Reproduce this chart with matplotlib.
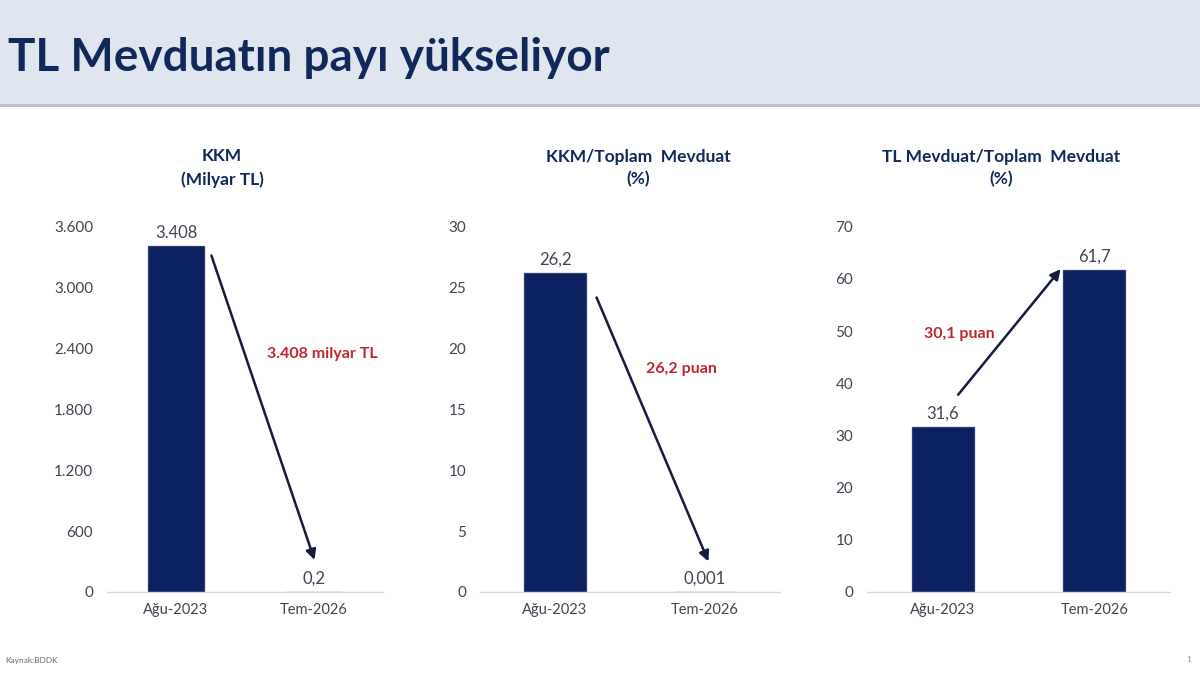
import matplotlib.pyplot as plt
from matplotlib.patches import Rectangle
from matplotlib.ticker import FuncFormatter

plt.rcParams['font.family'] = ['Lato', 'DejaVu Sans']

categories = ['Ağu-2023', 'Tem-2026']
kkm = [3408, 0.2]
kkm_share = [26.2, 0.001]
tl_share = [31.6, 61.7]
kkm_labels = ['3.408', '0,2']
kkm_share_labels = ['26,2', '0,001']
tl_share_labels = ['31,6', '61,7']

navy = '#0c2161'
title_col = '#10295a'
txt = '#404552'
red = '#c0272d'


def tr_thousands(v, pos):
    return f'{int(v):,}'.replace(',', '.')


fig = plt.figure(figsize=(12, 6.75), dpi=100)

# header band
fig.patches.append(Rectangle((0, 1 - 105 / 675), 1, 105 / 675, transform=fig.transFigure,
                             facecolor='#dfe6f0', edgecolor='none', zorder=0))
fig.patches.append(Rectangle((0, 1 - 107 / 675), 1, 3 / 675, transform=fig.transFigure,
                             facecolor='#b9c2ce', edgecolor='none', zorder=0))
fig.text(8 / 1200, 1 - 58 / 675, 'TL Mevduatın payı yükseliyor', fontsize=33, fontweight='bold',
         color=title_col, va='center', ha='left')

fig.text(5 / 1200, 1 - 661 / 675, 'Kaynak:BDDK', fontsize=6, color='#666666', va='center')
fig.text(1186 / 1200, 1 - 659 / 675, '1', fontsize=6, color='#888888', va='center')

panels = [
    dict(rect=[107 / 1200, 0.123, 276 / 1200, 0.541], vals=kkm, labels=kkm_labels, top=3600, step=600,
         fmt=tr_thousands, title='KKM\n(Milyar TL)', tx=222,
         arrow=((0.25, 3343), (1.01, 290)), note='3.408 milyar TL', note_xy=(1.06, 2347)),
    dict(rect=[480 / 1200, 0.123, 300 / 1200, 0.541], vals=kkm_share, labels=kkm_share_labels, top=30, step=5,
         fmt=lambda v, p: f'{int(v)}', title='KKM/Toplam  Mevduat\n(%)', tx=638,
         arrow=((0.27, 24.4), (1.03, 2.3)), note='26,2 puan', note_xy=(0.84, 18.3)),
    dict(rect=[867 / 1200, 0.123, 303 / 1200, 0.541], vals=tl_share, labels=tl_share_labels, top=70, step=10,
         fmt=lambda v, p: f'{int(v)}', title='TL Mevduat/Toplam  Mevduat\n(%)', tx=1001,
         arrow=((0.09, 37.4), (0.79, 62.3)), note='30,1 puan', note_xy=(0.11, 49.4)),
]

for p in panels:
    ax = fig.add_axes(p['rect'])
    x = range(len(categories))
    ax.bar(x, p['vals'], width=0.41, color=navy, edgecolor='#2e3d6e', linewidth=0.9, zorder=2)
    ax.set_xlim(-0.5, 1.5)
    ax.set_ylim(0, p['top'])
    ax.set_yticks(range(0, p['top'] + 1, p['step']))
    ax.yaxis.set_major_formatter(FuncFormatter(p['fmt']))
    ax.set_xticks(list(x))
    ax.set_xticklabels(categories)
    ax.tick_params(axis='both', length=0, labelsize=11, colors=txt)
    ax.tick_params(axis='y', pad=10)
    ax.tick_params(axis='x', pad=8, labelsize=10.5)
    for s in ['top', 'right', 'left']:
        ax.spines[s].set_visible(False)
    ax.spines['bottom'].set_color('#d9d9d9')
    ax.spines['bottom'].set_linewidth(1)
    for i, v in enumerate(p['vals']):
        ax.annotate(p['labels'][i], (i, v), xytext=(0, 4), textcoords='offset points',
                    ha='center', va='bottom', fontsize=12, color=txt)
    (x0, y0), (x1, y1) = p['arrow']
    ax.annotate('', xy=(x1, y1), xytext=(x0, y0),
                arrowprops=dict(arrowstyle='-|>,head_length=0.6,head_width=0.3', color='#141b3c', lw=1.8))
    ax.text(p['note_xy'][0], p['note_xy'][1], p['note'], ha='center', va='center', fontsize=11.5,
            fontweight='bold', color=red)
    fig.text(p['tx'] / 1200, 1 - 168 / 675, p['title'], ha='center', va='center', fontsize=12.5,
             fontweight='bold', color=title_col, linespacing=1.5)

fig.savefig('out.png', dpi=100, facecolor='white')
